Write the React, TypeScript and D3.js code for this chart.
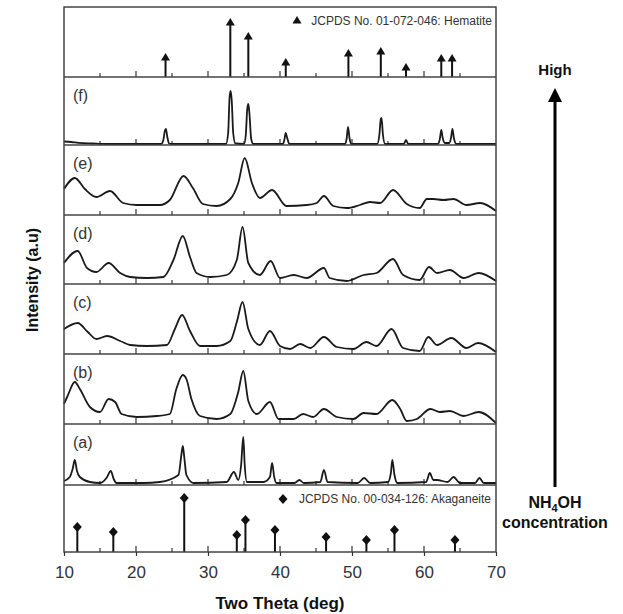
import React, { useEffect, useRef } from "react";
import * as d3 from "d3";

const W = 623;
const H = 614;

// panels top -> bottom
const panels = ["hem", "f", "e", "d", "c", "b", "a", "ak"];
const panelHeights = [70, 68, 70, 69, 70, 70, 61, 67];
const traceLabels: Record<string, string> = { f: "(f)", e: "(e)", d: "(d)", c: "(c)", b: "(b)", a: "(a)" };

const xTicks = [10, 20, 30, 40, 50, 60, 70];
const minorTicks = [15, 20, 25, 30, 35, 40, 45, 50, 55, 60, 65];

// reference patterns (2theta, relative height)
const hematitePos = [24.1, 33.1, 35.6, 40.8, 49.5, 54.0, 57.5, 62.4, 63.9];
const hematiteInt = [24, 59, 45, 19, 28, 30, 14, 23, 23];
const akaganeitePos = [11.85, 16.85, 26.7, 34.0, 35.2, 39.3, 46.4, 52.0, 55.9, 64.3];
const akaganeiteInt = [25, 20, 54, 17, 32, 22, 15, 12, 22, 12];

// measured traces, [2theta, intensity]
const traceF = [
  [10, 3.5], [11, 3], [12, 2.2], [14, 1.5], [16, 1], [20, 1], [23.5, 1], [23.8, 5], [24.0, 14], [24.15, 16], [24.35, 8], [24.6, 1.5], [25, 1],
  [30, 1], [32.5, 1], [32.8, 12], [33.0, 48], [33.15, 54], [33.3, 44], [33.5, 12], [33.8, 1.5],
  [35.0, 1], [35.25, 10], [35.45, 36], [35.6, 41], [35.75, 32], [36.0, 6], [36.3, 1], [40.4, 1], [40.6, 5], [40.8, 12], [41.0, 7], [41.3, 1],
  [49.0, 1], [49.25, 6], [49.45, 18], [49.65, 7], [49.9, 1], [53.5, 1], [53.8, 10], [54.0, 26], [54.1, 27], [54.3, 10], [54.6, 1],
  [57.2, 1], [57.5, 5], [57.8, 1], [61.9, 1], [62.2, 6], [62.4, 15], [62.6, 7], [62.9, 2],
  [63.5, 2], [63.75, 7], [63.95, 16], [64.15, 7], [64.5, 1], [70, 1],
];
const traceE = [
  [10, 26], [11.5, 37], [12.9, 26], [14.5, 18], [16.4, 24], [18.2, 12], [20.1, 10], [23.3, 10], [24.7, 15], [26.6, 39],
  [27.9, 27], [29.3, 11], [31.2, 9], [33.1, 16], [34.2, 32], [35.1, 57], [36.1, 32], [37.2, 17], [38.9, 25], [40.9, 9],
  [43.7, 10], [45.1, 12], [46.1, 19], [47.4, 9], [49.3, 7], [51.1, 10], [52.5, 13], [53.9, 12], [55.7, 25], [57.6, 11],
  [59.4, 7], [60.4, 16], [61.3, 16], [62.7, 15], [64.1, 16], [65.9, 10], [67.8, 12], [70, 4],
];
const traceD = [
  [10, 21], [11.9, 33], [13.2, 16], [14.5, 12], [16.2, 21], [17.8, 11], [19.2, 7], [21.5, 6], [23.8, 7], [25.2, 24],
  [26.5, 48], [27.5, 27], [28.4, 11], [30.3, 7], [32.6, 9], [34.0, 24], [34.8, 57], [35.6, 21], [37.2, 9], [38.7, 23],
  [40.0, 6], [41.9, 9], [43.7, 6], [46.1, 16], [46.9, 6], [49.3, 3], [51.6, 9], [53.4, 11], [55.7, 25], [57.1, 9],
  [59.4, 4], [60.7, 17], [61.8, 11], [63.6, 14], [65.5, 6], [67.6, 11], [70, 3],
];
const traceC = [
  [10, 25], [11.9, 31], [13.3, 22], [14.5, 15], [16.0, 18], [17.8, 13], [19.2, 9], [21.5, 8], [24.3, 9], [25.4, 25],
  [26.4, 39], [27.5, 23], [28.9, 8], [31.2, 8], [33.1, 13], [34.0, 32], [34.8, 52], [35.6, 25], [37.2, 9], [38.6, 23],
  [40.0, 8], [41.4, 5], [42.8, 10], [44.2, 6], [46.1, 17], [47.9, 7], [50.2, 5], [52.0, 12], [53.4, 8], [55.5, 25],
  [57.1, 6], [59.4, 3], [60.6, 17], [61.8, 9], [63.8, 16], [65.9, 6], [67.5, 11], [70, 2],
];
const traceB = [
  [10, 20], [10.5, 28], [11.5, 42], [12.2, 35], [13.6, 17], [15.0, 12], [16.2, 25], [17.1, 22], [18.0, 10], [20.1, 7],
  [22.9, 8], [24.7, 10], [25.6, 35], [26.5, 49], [27.0, 45], [27.7, 25], [28.9, 8], [31.2, 5], [33.1, 10], [34.2, 32],
  [34.9, 53], [35.6, 23], [36.8, 10], [38.6, 22], [39.8, 5], [41.9, 5], [43.2, 10], [44.6, 7], [46.1, 15], [47.9, 7],
  [50.2, 5], [51.6, 11], [53.4, 10], [55.6, 24], [56.7, 15], [57.6, 3], [59.0, 5], [60.9, 15], [62.2, 12], [63.6, 13],
  [65.5, 8], [67.6, 12], [70, 1],
];
const traceA = [
  [10, 4], [10.8, 8], [11.2, 16], [11.5, 25], [11.8, 14], [12.2, 8], [13.6, 3], [15.0, 2], [15.9, 7], [16.5, 14], [16.9, 6],
  [17.3, 2], [21.0, 2], [23.3, 3], [25.9, 10], [26.3, 30], [26.5, 39], [26.7, 28], [27.0, 10], [28.0, 2], [32.6, 3],
  [33.6, 13], [34.2, 5], [34.6, 20], [34.9, 48], [35.1, 20], [35.4, 3], [37.7, 3], [38.6, 8], [38.9, 22], [39.2, 8],
  [39.5, 2], [42.0, 2], [42.7, 5], [43.3, 2], [45.6, 3], [46.1, 15], [46.6, 3], [50.8, 2], [51.7, 7], [52.5, 2],
  [55.0, 3], [55.4, 12], [55.6, 25], [55.9, 10], [56.3, 2], [60.3, 3], [60.8, 12], [61.3, 5], [61.8, 5], [63.3, 3],
  [64.1, 8], [65.0, 2], [67.1, 2], [67.7, 7], [68.3, 2], [70, 2],
];
const traces: Record<string, number[][]> = { f: traceF, e: traceE, d: traceD, c: traceC, b: traceB, a: traceA };

function App() {
  const ref = useRef<SVGSVGElement>(null);

  useEffect(() => {
    const svg = d3.select(ref.current);
    svg.selectAll("*").remove();

    const left = 64, right = 496, top = 7;
    const x = d3.scaleLinear().domain([10, 70]).range([left, right]);

    // panel edges
    const tops: number[] = [];
    let acc = top;
    panelHeights.forEach((h) => { tops.push(acc); acc += h; });
    const bottomY = acc;

    const line = d3.line<number[]>().x((d) => x(d[0])).curve(d3.curveMonotoneX);

    panels.forEach((id, i) => {
      const y0 = tops[i] + panelHeights[i];
      const y = d3.scaleLinear().domain([0, panelHeights[i]]).range([y0, tops[i]]);
      const g = svg.append("g");

      // inward ticks
      g.selectAll(".tk")
        .data(minorTicks)
        .enter().append("line")
        .attr("x1", (d) => x(d)).attr("x2", (d) => x(d))
        .attr("y1", y0).attr("y2", (d) => y0 - (d % 10 === 0 ? 6 : 4))
        .attr("stroke", "#333").attr("stroke-width", 1.2);

      if (traces[id]) {
        g.append("path")
          .datum(traces[id])
          .attr("d", line.y((d) => y(d[1])))
          .attr("fill", "none")
          .attr("stroke", "#1a1a1a")
          .attr("stroke-width", 1.8);
        g.append("text")
          .attr("x", 73).attr("y", tops[i] + 24)
          .style("font-family", "Liberation Sans, Arial, sans-serif")
          .style("font-size", "16px")
          .attr("fill", "#333")
          .text(traceLabels[id]);
      }

      if (id === "hem") {
        const pk = hematitePos.map((p, k) => ({ p, v: hematiteInt[k] }));
        g.selectAll(".stem").data(pk).enter().append("line")
          .attr("x1", (d) => x(d.p)).attr("x2", (d) => x(d.p))
          .attr("y1", y0).attr("y2", (d) => y(d.v) + 5)
          .attr("stroke", "#111").attr("stroke-width", 2);
        g.selectAll(".tri").data(pk).enter().append("path")
          .attr("d", (d) => `M${x(d.p)},${y(d.v)} l4.5,7.5 l-9,0 z`)
          .attr("fill", "#111");
        g.append("path").attr("d", "M297,16 l4.5,7.5 l-9,0 z").attr("fill", "#111");
        g.append("text")
          .attr("x", 492).attr("y", 25).attr("text-anchor", "end")
          .style("font-family", "Liberation Sans, Arial, sans-serif")
          .style("font-size", "12px").attr("fill", "#333")
          .text("JCPDS No. 01-072-046: Hematite");
      }

      if (id === "ak") {
        const pk = akaganeitePos.map((p, k) => ({ p, v: akaganeiteInt[k] }));
        g.selectAll(".stem").data(pk).enter().append("line")
          .attr("x1", (d) => x(d.p)).attr("x2", (d) => x(d.p))
          .attr("y1", y0).attr("y2", (d) => y(d.v))
          .attr("stroke", "#111").attr("stroke-width", 2);
        g.selectAll(".dia").data(pk).enter().append("path")
          .attr("d", (d) => `M${x(d.p)},${y(d.v) - 5} l4.5,5 l-4.5,5 l-4.5,-5 z`)
          .attr("fill", "#111");
        g.append("path").attr("d", "M283,494 l4.5,5 l-4.5,5 l-4.5,-5 z").attr("fill", "#111");
        g.append("text")
          .attr("x", 491).attr("y", 503).attr("text-anchor", "end")
          .style("font-family", "Liberation Sans, Arial, sans-serif")
          .style("font-size", "12px").attr("fill", "#333")
          .text("JCPDS No. 00-034-126: Akaganeite");
      }

      // separator
      if (i < panels.length - 1) {
        svg.append("line")
          .attr("x1", left).attr("x2", right).attr("y1", y0).attr("y2", y0)
          .attr("stroke", "#444").attr("stroke-width", 1.5);
      }
    });

    // frame
    svg.append("rect")
      .attr("x", left).attr("y", top).attr("width", right - left).attr("height", bottomY - top)
      .attr("fill", "none").attr("stroke", "#444").attr("stroke-width", 1.5);

    // bottom axis
    const xAxis = d3.axisBottom(x).tickValues(xTicks).tickSize(4).tickPadding(10).tickFormat(d3.format("d"));
    svg.append("g")
      .attr("transform", "translate(0," + bottomY + ")")
      .call(xAxis)
      .call((g) => g.select(".domain").remove())
      .call((g) => g.selectAll("line").attr("stroke", "#333").attr("stroke-width", 1.2))
      .selectAll("text")
      .style("font-family", "Liberation Sans, Arial, sans-serif")
      .style("font-size", "17px")
      .attr("fill", "#333");

    svg.append("text")
      .attr("x", (left + right) / 2).attr("y", 609).attr("text-anchor", "middle")
      .style("font-family", "Liberation Sans, Arial, sans-serif")
      .style("font-size", "17px").style("font-weight", "bold").attr("fill", "#111")
      .text("Two Theta (deg)");

    svg.append("text")
      .attr("transform", "translate(38,280) rotate(-90)").attr("text-anchor", "middle")
      .style("font-family", "Liberation Sans, Arial, sans-serif")
      .style("font-size", "16px").style("font-weight", "bold").attr("fill", "#111")
      .text("Intensity (a.u)");

    // concentration arrow
    const ax = 555;
    svg.append("line")
      .attr("x1", ax).attr("x2", ax).attr("y1", 487).attr("y2", 100)
      .attr("stroke", "#000").attr("stroke-width", 3);
    svg.append("path").attr("d", `M${ax},88 l7,14 l-14,0 z`).attr("fill", "#000");
    svg.append("text")
      .attr("x", ax).attr("y", 75).attr("text-anchor", "middle")
      .style("font-family", "Liberation Sans, Arial, sans-serif")
      .style("font-size", "15px").style("font-weight", "bold").attr("fill", "#111")
      .text("High");
    const nh = svg.append("text")
      .attr("x", ax).attr("y", 508).attr("text-anchor", "middle")
      .style("font-family", "Liberation Sans, Arial, sans-serif")
      .style("font-size", "16px").style("font-weight", "bold").attr("fill", "#111");
    nh.append("tspan").text("NH");
    nh.append("tspan").attr("dy", 4).style("font-size", "11px").text("4");
    nh.append("tspan").attr("dy", -4).text("OH");
    svg.append("text")
      .attr("x", ax).attr("y", 528).attr("text-anchor", "middle")
      .style("font-family", "Liberation Sans, Arial, sans-serif")
      .style("font-size", "16px").style("font-weight", "bold").attr("fill", "#111")
      .text("concentration");
  }, []);

  return (
    <svg ref={ref} width={W} height={H}
      style={{ position: "absolute", left: 0, top: 0, background: "#fff" }} />
  );
}

export default App;
